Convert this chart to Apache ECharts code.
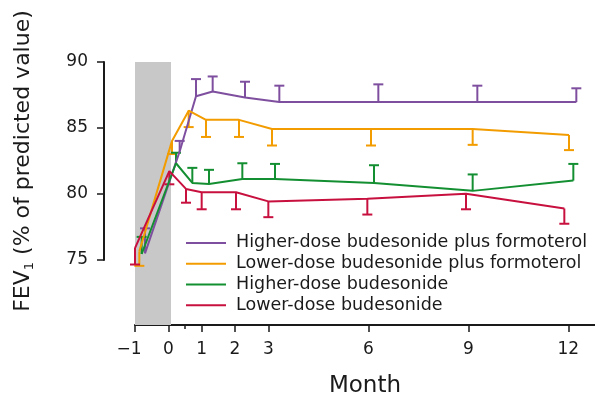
<!DOCTYPE html>
<html>
<head>
<meta charset="utf-8">
<script src="https://cdn.jsdelivr.net/npm/echarts@6/dist/echarts.min.js"></script>
<style>
  html, body { margin: 0; padding: 0; background: #fff; }
  #chart { width: 595px; height: 395px; }
</style>
</head>
<body>
<div id="chart"></div>
<script>
// series names (legend order)
const names = [
    'Higher-dose budesonide plus formoterol',
    'Lower-dose budesonide plus formoterol',
    'Higher-dose budesonide',
    'Lower-dose budesonide'
];
const colors = ['#7f4f9f', '#f29c00', '#138f32', '#c8103f'];

// month positions (groups are slightly offset from each other)
const monthsHiCombo = [-0.7, 0.34, 0.83, 1.33, 2.3, 3.33, 6.3, 9.27, 12.24];
const monthsLoCombo = [-0.87, 0.11, 0.61, 1.13, 2.12, 3.11, 6.08, 9.13, 12.02];
const monthsHiBud   = [-0.8, 0.23, 0.72, 1.22, 2.22, 3.2, 6.17, 9.13, 12.15];
const monthsLoBud   = [-1.0, 0.03, 0.53, 1.0, 2.03, 3.0, 5.97, 8.93, 11.88];

// mean FEV1 values
const fevHiCombo = [75.45, 83.2, 87.4, 87.75, 87.3, 86.95, 86.95, 86.95, 86.95];
const fevLoCombo = [75.6, 84.0, 86.3, 85.6, 85.6, 84.9, 84.9, 84.9, 84.45];
const fevHiBud   = [75.4, 82.3, 80.8, 80.73, 81.1, 81.1, 80.8, 80.2, 80.98];
const fevLoBud   = [75.85, 81.7, 80.35, 80.1, 80.1, 79.4, 79.6, 79.98, 78.86];

// error bar ends (upper for the top/green groups, lower for orange/red)
const barHiCombo = [77.35, 84.0, 88.7, 88.9, 88.5, 88.2, 88.3, 88.2, 88.0];
const barLoCombo = [74.5, 83.0, 85.05, 84.3, 84.3, 83.65, 83.65, 83.7, 83.3];
const barHiBud   = [76.7, 83.1, 81.95, 81.8, 82.3, 82.25, 82.15, 81.45, 82.25];
const barLoBud   = [74.6, 80.7, 79.3, 78.8, 78.8, 78.2, 78.4, 78.8, 77.7];

// axis ticks
const monthTicks = [-1, 0, 1, 2, 3, 6, 9, 12];
const minorTicks = [0.5];
const runIn = [-1, 0.08];

const groups = [
    [monthsHiCombo, fevHiCombo, barHiCombo],
    [monthsLoCombo, fevLoCombo, barLoCombo],
    [monthsHiBud, fevHiBud, barHiBud],
    [monthsLoBud, fevLoBud, barLoBud]
];

const font = 'DejaVu Sans, sans-serif';
const ink = '#1a1a1a';

function errorBarRender(params, api) {
    const x = api.value(0);
    const p0 = api.coord([x, api.value(1)]);
    const p1 = api.coord([x, api.value(2)]);
    const style = { stroke: api.visual('color'), lineWidth: 2 };
    return {
        type: 'group',
        children: [
            { type: 'line', shape: { x1: p0[0], y1: p0[1], x2: p1[0], y2: p1[1] }, style: style },
            { type: 'line', shape: { x1: p1[0] - 5, y1: p1[1], x2: p1[0] + 5, y2: p1[1] }, style: style }
        ]
    };
}

let series = [{
    // shaded run-in period
    type: 'line',
    data: [],
    z: 0,
    silent: true,
    markArea: {
        silent: true,
        itemStyle: { color: '#c8c8c8' },
        data: [[{ xAxis: runIn[0] }, { xAxis: runIn[1] }]]
    }
}];

groups.forEach(function (g, i) {
    series.push({
        name: names[i],
        type: 'line',
        symbol: 'none',
        color: colors[i],
        lineStyle: { width: 2, color: colors[i] },
        data: g[0].map(function (m, k) { return [m, g[1][k]]; }),
        z: 3
    });
    series.push({
        type: 'custom',
        color: colors[i],
        renderItem: errorBarRender,
        encode: { x: 0, y: [1, 2] },
        data: g[0].map(function (m, k) { return [m, g[1][k], g[2][k]]; }),
        z: 3
    });
});

let myChart = echarts.init(document.getElementById('chart'));
let option = {
    animation: false,
    textStyle: { fontFamily: font },
    grid: [
        { left: 135, right: 0, top: 62, bottom: 70, outerBoundsMode: 'none', containLabel: false },
        { left: 104, width: 10, top: 62, height: 198, outerBoundsMode: 'none', containLabel: false }
    ],
    legend: {
        orient: 'vertical',
        left: 186,
        top: 232.5,
        padding: 0,
        itemGap: 0,
        itemWidth: 40,
        itemHeight: 2,
        icon: 'rect',
        data: names,
        textStyle: { fontFamily: font, fontSize: 17.5, color: ink, lineHeight: 20.8, padding: [0, 0, 0, 5] }
    },
    xAxis: [
        {
            type: 'value',
            gridIndex: 0,
            min: -1,
            max: 12.8,
            position: 'bottom',
            name: 'Month',
            nameLocation: 'middle',
            nameGap: 50,
            nameTextStyle: { fontFamily: font, fontSize: 23, color: ink },
            splitLine: { show: false },
            axisLine: { lineStyle: { color: ink, width: 2 } },
            axisTick: { customValues: monthTicks, length: 7, lineStyle: { color: ink, width: 1.5 } },
            axisLabel: {
                customValues: monthTicks,
                fontFamily: font,
                fontSize: 17,
                color: ink,
                margin: 16,
                formatter: function (v) { return v < 0 ? '\u2212' + Math.abs(v) + '{p|}' : String(v); },
                rich: { p: { width: 12 } }
            }
        },
        {
            type: 'value',
            gridIndex: 0,
            min: -1,
            max: 12.8,
            position: 'bottom',
            splitLine: { show: false },
            axisLine: { show: false },
            axisTick: { customValues: minorTicks, length: 4, lineStyle: { color: ink, width: 1.5 } },
            axisLabel: { show: false }
        },
        { type: 'value', gridIndex: 1, show: false }
    ],
    yAxis: [
        {
            type: 'value',
            gridIndex: 0,
            min: 70,
            max: 90,
            show: false
        },
        {
            type: 'value',
            gridIndex: 1,
            min: 75,
            max: 90,
            interval: 5,
            name: 'FEV{sub|1} (% of predicted value)',
            nameLocation: 'middle',
            nameGap: 68,
            nameTextStyle: {
                fontFamily: font,
                fontSize: 22,
                color: ink,
                lineHeight: 26,
                rich: {
                    sub: { fontFamily: font, fontSize: 13, lineHeight: 10, verticalAlign: 'bottom', color: ink }
                }
            },
            splitLine: { show: false },
            axisLine: { show: true, lineStyle: { color: ink, width: 2 } },
            axisTick: { show: true, length: 7, lineStyle: { color: ink, width: 1.5 } },
            axisLabel: { fontFamily: font, fontSize: 17, color: ink, margin: 16 }
        }
    ],
    series: series
};

myChart.setOption(option);
</script>
</body>
</html>
